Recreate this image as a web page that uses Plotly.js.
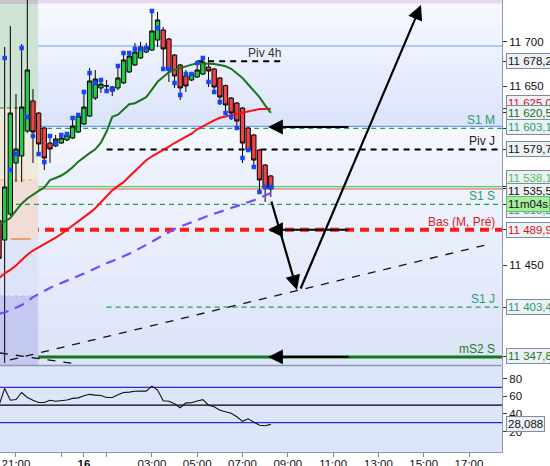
<!DOCTYPE html>
<html><head><meta charset="utf-8">
<script src="https://cdn.plot.ly/plotly-3.0.1.min.js"></script>
<style>html,body{margin:0;padding:0;background:#fff;}#chart{width:550px;height:466px;}</style>
</head><body><div id="chart"></div>
<script>
// ---------------- DATA ----------------
const times = [20.25,20.5,20.75,21,21.25,21.5,21.75,22,22.25,22.5,22.75,23,23.25,23.5,23.75,24,24.25,24.5,24.75,25,25.25,25.5,25.75,26,26.25,26.5,26.75,27,27.25,27.5,27.75,28,28.25,28.5,28.75,29,29.25,29.5,29.75,30,30.25,30.5,30.75,31,31.25,31.5,31.75,32,32.25];
const openP  = [11500,11478.4,11507.5,11564.5,11572.3,11600.2,11633.8,11620.3,11603.6,11586.8,11583.5,11586.8,11590.2,11592.4,11599.1,11608.0,11617.0,11637.1,11648.3,11650.5,11649.4,11648.3,11653.9,11666.2,11674.0,11681.8,11688.5,11690.7,11701.9,11713.1,11703.0,11685.1,11674.0,11661.7,11657.2,11660.6,11663.9,11671.7,11669.5,11659.5,11651.0,11637.1,11631.5,11625.9,11603.6,11595.8,11579.0,11562.2,11550.0];
const highP  = [11506,11694.1,11717.5,11641.6,11697.4,11760,11647.2,11621.5,11604.7,11595.8,11595.8,11598.0,11596.9,11614.8,11618.1,11643.8,11670.6,11668.4,11657.2,11657.2,11650.5,11674.0,11688.5,11687.4,11698.6,11699.7,11698.6,11734.3,11733.2,11716.4,11704.1,11686.3,11675.1,11668.4,11665.0,11676.2,11682.9,11682.9,11670.6,11660.6,11652.1,11638.2,11632.6,11627.0,11604.7,11596.9,11580.1,11563.3,11551.1];
const lowP   = [11452,11341.0,11505.3,11543.3,11543.3,11598.0,11564.5,11573.4,11556.7,11564.5,11582.4,11585.7,11589.1,11591.3,11598.0,11606.9,11615.9,11634.9,11642.7,11642.7,11639.3,11646.0,11652.7,11665.0,11672.9,11680.7,11687.4,11689.6,11694.1,11669.5,11655.0,11648.3,11634.9,11643.8,11656.1,11659.5,11662.8,11649.4,11642.7,11629.3,11621.5,11612.5,11603.6,11564.5,11577.5,11560.0,11532.1,11520.9,11526.5];
const closeP = [11458,11537.7,11620.3,11580.1,11627.0,11668.4,11599.1,11585.7,11570.1,11580.1,11591.3,11592.4,11595.8,11605.8,11617.0,11627.0,11656.1,11658.3,11652.7,11650.7,11644.9,11659.5,11679.6,11684.0,11688.5,11694.1,11694.1,11712.0,11724.3,11691.9,11668.4,11661.7,11648.3,11650.5,11663.9,11668.4,11677.3,11667.3,11649.4,11638.2,11629.3,11620.3,11611.4,11586.8,11579.0,11567.8,11545.5,11536.6,11535.5];
const markerP = [null,11681.8,11556.7,11574.5,11693.0,11615.9,11594.6,11574.5,11565.6,11594.6,11586.8,11595.8,11596.9,11614.8,11618.1,11643.8,11665.0,11653.9,11657.2,11644.9,11647.2,11672.9,11687.4,11687.4,11691.9,11691.9,11693.0,11734.3,11715.3,11669.5,11669.5,11653.9,11640.5,11663.9,11663.9,11676.2,11681.8,11655.0,11643.8,11632.6,11620.3,11615.9,11603.6,11570.1,11579.0,11560.0,11532.1,11537.7,11537.7];
const maGreen = [11495.2,11499.2,11503.0,11511.3,11519.0,11524.8,11529.5,11533.3,11537.0,11545.4,11547.7,11550.5,11554.6,11559.7,11566.0,11571.1,11575.5,11579.8,11587.3,11599.6,11616.1,11618.4,11623.9,11630.1,11631.3,11634.3,11638.1,11646.5,11655.2,11660.5,11665.9,11668.4,11670.6,11672.9,11674.4,11676.0,11676.0,11675.5,11675.2,11674.0,11672.6,11669.8,11664.9,11659.6,11652.2,11645.4,11638.0,11628.9,11620.5];
const maRed = [11436.0,11441.1,11445.1,11449.9,11456.1,11462.0,11466.7,11470.2,11473.6,11477.3,11481.1,11485.1,11489.7,11494.1,11498.7,11503.8,11508.8,11514.0,11520.3,11527.2,11533.9,11538.6,11543.1,11549.4,11555.5,11561.7,11567.5,11572.0,11575.4,11579.6,11582.9,11586.8,11590.4,11593.2,11597.2,11602.1,11605.7,11608.8,11612.1,11615.0,11616.4,11617.9,11619.2,11620.7,11621.9,11623.6,11624.8,11624.8,11625.0];
const maPurple = [11395.8,11397.4,11399.7,11402.9,11405.7,11409.7,11414.6,11418.1,11421.6,11425.2,11428.2,11430.5,11432.9,11435.3,11437.9,11440.9,11443.9,11446.9,11450.0,11452.4,11454.9,11457.4,11460.0,11463.1,11466.3,11469.5,11472.8,11476.5,11480.2,11483.9,11487.4,11490.7,11493.4,11495.9,11498.5,11501.2,11503.5,11505.6,11507.7,11510.0,11511.9,11514.1,11516.3,11518.4,11520.7,11522.9,11525.4,11528.5,11531.0];
const oscValues = [49.8,68.9,55.5,56.3,64.3,58.6,55.5,52.9,52.9,55.5,54.4,55.0,55.8,57.6,58.2,60.7,62.2,61.3,60.9,58.6,58.6,61.8,64.2,64.7,65.7,65.8,65.8,71.5,67.0,55.0,54.4,51.5,47.0,52.5,52.7,54.6,56.1,49.8,48.1,44.1,42.1,40.7,36.7,31.5,34.4,31.0,27.0,26.5,28.088];
const oscLevels = [70, 50, 30];
const oscTicks = [20, 40, 60, 80];

const tickHours = [21,23,24,25,27,29,31,33,35,37,39,41];
const tickLabels = ['21:00','','<b>16</b>','','03:00','05:00','07:00','09:00','11:00','13:00','15:00','17:00'];
const priceTicks = [11450, 11650, 11700];
const priceTickLabels = ['11 450','11 650','11 700'];

const levelNames  = ['Piv 4h','S1 M','Piv J','S1 S','Bas (M, Pré)','S1 J','mS2 S'];
const levelValues = [11678.2, 11603.1, 11579.7, 11518.2, 11489.9, 11403.4, 11347.8];
const blueLevels = [11695.2, 11605.3];
const greenLevel = 11538.1;
const lastPrice = 11535.5;
const maGreenLast = 11620.5;
const maRedLast = 11625.0;
const timerText = '11m04s';

const trend1T = [20.735, 41.927];
const trend1P = [11344.4, 11474.0];
const trend2T = [20.294, 23.693];
const trend2P = [11352.2, 11339.9];

const arrowTailT = [35.746, 35.746, 35.746, 32.258, 33.539];
const arrowTailP = [11604.7, 11489.9, 11347.8, 11523.1, 11422.6];
const arrowHeadT = [32.126, 32.126, 32.126, 33.406, 38.881];
const arrowHeadP = [11604.7, 11489.9, 11347.8, 11422.6, 11741.0];

// ---------------- HELPERS ----------------
function fmt(v, d) {
  const s = v.toFixed(d === undefined ? 1 : d).split('.');
  return s[0].replace(/\B(?=(\d{3})+(?!\d))/g, ' ') + ',' + s[1];
}
function mix(c0, c1, f) {
  const a = parseInt(c0.slice(1), 16), b = parseInt(c1.slice(1), 16);
  const ch = (x, sh) => (x >> sh) & 255;
  const r = Math.round(ch(a,16)*(1-f) + ch(b,16)*f);
  const g = Math.round(ch(a,8)*(1-f) + ch(b,8)*f);
  const bl = Math.round(ch(a,0)*(1-f) + ch(b,0)*f);
  return 'rgb(' + r + ',' + g + ',' + bl + ')';
}

const X0 = 20.294, X1 = 42.457;
const Y0 = 11338.8, Y1 = 11746.6;
const FONT = 'Liberation Sans, Arial, sans-serif';
const shapes = [];

function gradient(pTop, pBot, cTop, cBot, n) {
  for (let i = 0; i < n; i++) {
    const a = pTop + (pBot - pTop) * i / n;
    const b = pTop + (pBot - pTop) * (i + 1) / n;
    shapes.push({type:'rect', xref:'paper', yref:'y', x0:0, x1:1, y0:a, y1:b + (pBot < pTop ? -0.4 : 0.4),
      fillcolor: mix(cTop, cBot, (i + 0.5) / n), line:{width:0}, layer:'below'});
  }
}
gradient(Y1, blueLevels[0], '#f8f9ff', '#eef2fd', 5);
gradient(blueLevels[0], blueLevels[1], '#eef3fd', '#dae3f9', 10);
gradient(blueLevels[1], greenLevel, '#f7f9fe', '#e9eefc', 8);
gradient(greenLevel, Y0, '#eff3fd', '#dbe3f9', 14);

function zone(p0, p1, color, xa, xb) {
  shapes.push({type:'rect', xref:'x', yref:'y', x0:xa, x1:xb, y0:p0, y1:p1, fillcolor:color, line:{width:0}, layer:'below'});
}
const ZX = 21.98;
zone(11742.1, Y1, '#c6c6cc', X0, ZX);
zone(11625.9, 11742.1, '#cee3d4', X0, ZX);
zone(11545.5, 11625.9, '#efe9dc', X0, ZX);
zone(11479.6, 11545.5, '#f1ddd8', X0, ZX);
zone(11415.9, 11479.6, '#dde4f8', X0, ZX);
zone(Y0, 11415.9, '#c4c9f2', X0, ZX);
zone(11742.7, Y1, '#e7d8f0', ZX, X1);

function hline(p, xa, xb, color, width, dash, xref) {
  shapes.push({type:'line', xref: xref || 'x', yref:'y', x0:xa, x1:xb, y0:p, y1:p,
    line:{color:color, width:width, dash:dash || 'solid'}, layer:'below'});
}
// left-zone small lines
hline(11625.9, X0, 21.85, '#2a8a2a', 1, '4px,3px');
hline(11545.5, X0, 21.85, '#f5b030', 1.2, '4px,3px');
hline(11479.6, 20.77, 21.65, '#f08a40', 1.5);
hline(11415.9, X0, ZX, '#a8bdf2', 1, '4px,3px');
// level lines
hline(blueLevels[0], 0, 1, '#6f9ff5', 1.2, 'solid', 'paper');
hline(blueLevels[1], 0, 1, '#6f9ff5', 1.2, 'solid', 'paper');
hline(levelValues[0], 29.0, 32.75, '#000', 2, '6px,5px');
hline(levelValues[1], ZX, X1, '#22a050', 1.2, '5px,4px');
hline(levelValues[2], 25.0, X1, '#000', 2, '6px,5px');
hline(greenLevel, 0, 1, '#55cc55', 1.3, 'solid', 'paper');
hline(lastPrice, 0, 1, '#e05555', 1, 'solid', 'paper');
hline(levelValues[3], 21.0, X1, '#22a050', 1.2, '5px,4px');
hline(levelValues[4], 0, 1, '#ff1a1a', 4, '9px,6px', 'paper');
hline(levelValues[5], 25.0, X1, '#22a050', 1.2, '5px,4px');
hline(levelValues[6], 0, 1, '#137a13', 3, 'solid', 'paper');

// oscillator levels
oscLevels.forEach((v, i) => {
  shapes.push({type:'line', xref:'paper', yref:'y2', x0:0, x1:1, y0:v, y1:v,
    line:{color: i === 1 ? '#000' : '#2a2ad0', width:1.3}, layer:'below'});
});

const mainDomain = [0.1925, 1];
const oscDomain = [0, 0.1903];
// separator between panels
shapes.push({type:'line', xref:'paper', yref:'paper', x0:0, x1:1, y0:0.1914, y1:0.1914, line:{color:'#8a9aaa', width:1.5}, layer:'above'});

// ---------------- TRACES ----------------
const traces = [
  {type:'scatter', mode:'lines', x:trend1T, y:trend1P, xaxis:'x', yaxis:'y', line:{color:'#111', width:1.3, dash:'8px,8px'}, hoverinfo:'skip', showlegend:false},
  {type:'scatter', mode:'lines', x:trend2T, y:trend2P, xaxis:'x', yaxis:'y', line:{color:'#111', width:1.3, dash:'8px,8px'}, hoverinfo:'skip', showlegend:false},
  {type:'scatter', mode:'lines', x:times, y:maPurple, xaxis:'x', yaxis:'y', line:{color:'#7448ff', width:2.2, dash:'10px,7px'}, hoverinfo:'skip', showlegend:false},
  {type:'candlestick', x:times, open:openP, high:highP, low:lowP, close:closeP, xaxis:'x', yaxis:'y',
    increasing:{line:{color:'#000', width:1}, fillcolor:'#22cc44'},
    decreasing:{line:{color:'#000', width:1}, fillcolor:'#f04444'},
    whiskerwidth:0, hoverinfo:'skip', showlegend:false},
  {type:'scatter', mode:'lines', x:times, y:maRed, xaxis:'x', yaxis:'y', line:{color:'#ff1010', width:2}, hoverinfo:'skip', showlegend:false},
  {type:'scatter', mode:'lines', x:times, y:maGreen, xaxis:'x', yaxis:'y', line:{color:'#1a741a', width:2}, hoverinfo:'skip', showlegend:false},
  {type:'scatter', mode:'markers', x:times, y:markerP, xaxis:'x', yaxis:'y', marker:{symbol:'square', size:4.5, color:'#1445ff'}, hoverinfo:'skip', showlegend:false},
  {type:'scatter', mode:'lines', x:times, y:oscValues, xaxis:'x', yaxis:'y2', line:{color:'#111', width:1.1}, hoverinfo:'skip', showlegend:false}
];

// ---------------- ANNOTATIONS ----------------
const annotations = [];
for (let i = 0; i < arrowTailT.length; i++) {
  annotations.push({x:arrowHeadT[i], y:arrowHeadP[i], ax:arrowTailT[i], ay:arrowTailP[i],
    xref:'x', yref:'y', axref:'x', ayref:'y', text:'', showarrow:true,
    arrowhead:2, arrowsize:1.35, arrowwidth:2.2, arrowcolor:'#000', standoff:0, startstandoff:0});
}
const nameColors = ['#333','#2a9d6b','#222','#2a9d6b','#e02020','#2a9d6b','#1e7d1e'];
levelNames.forEach((n, i) => {
  const a = {text:n, yref:'y', y:levelValues[i], yanchor:'bottom', showarrow:false,
    font:{family:FONT, size:12, color:nameColors[i]}, borderpad:0};
  if (i === 0) { a.xref = 'x'; a.x = 32.75; a.xanchor = 'right'; }
  else { a.xref = 'paper'; a.x = 496/502; a.xanchor = 'right'; }
  annotations.push(a);
});
const boxValues = [11678.2, maRedLast, maGreenLast, levelValues[1], levelValues[2], greenLevel, lastPrice, levelValues[3], levelValues[4], levelValues[5], levelValues[6]];
const boxColors = ['#111', '#e01010', '#176e17', '#1f9f6f', '#111', '#4cc44c', '#111', '#1f9f6f', '#e01010', '#1f9f6f', '#1a7a1a'];
const boxShift  = [0, 6, 0, 1, 0, 9, -2, -6, 0, 0, 1];
function box(text, y, yref, color, shift, bg, border) {
  annotations.push({text:text, xref:'paper', x:1 + 4/502, xanchor:'left', yref:yref, y:y, yanchor:'middle', yshift:shift,
    showarrow:false, bgcolor:bg || '#eef2f7', bordercolor:border || '#7b8c9e', borderwidth:1, borderpad:1,
    font:{family:FONT, size:11.5, color:color}});
}
boxValues.forEach((v, i) => { if (i !== 7 && i !== 8) box(fmt(v), v, 'y', boxColors[i], boxShift[i]); });
box(fmt(boxValues[7]), boxValues[7], 'y', boxColors[7], boxShift[7]);
box(timerText, lastPrice, 'y', '#111', -15, '#a4ee9e', '#6cb868');
box(fmt(boxValues[8]), boxValues[8], 'y', boxColors[8], boxShift[8]);
box(fmt(oscValues[oscValues.length - 1], 3), oscValues[oscValues.length - 1], 'y2', '#111', 0);

// ---------------- LAYOUT ----------------
const layout = {
  width:550, height:466,
  margin:{l:0, r:48, t:0, b:14, pad:0},
  paper_bgcolor:'#ffffff', plot_bgcolor:'#dde5fb',
  font:{family:FONT, size:11.5, color:'#111'},
  showlegend:false,
  boxgap:0.15, boxgroupgap:0.1,
  xaxis:{range:[X0, X1], anchor:'y2', tickmode:'array', tickvals:tickHours, ticktext:tickLabels,
    ticks:'outside', ticklen:4, tickcolor:'#7a8898', showgrid:false, zeroline:false,
    showline:true, linecolor:'#8a9aaa', linewidth:1, rangeslider:{visible:false}, fixedrange:true,
    ticklabelstandoff:-3,
    tickfont:{family:FONT, size:11.5, color:'#111'}},
  yaxis:{domain:mainDomain, anchor:'x', side:'right', range:[Y0, Y1], tickmode:'array',
    tickvals:priceTicks.concat(boxValues), ticktext:priceTickLabels.concat(boxValues.map(() => '')),
    ticks:'outside', ticklen:4, tickcolor:'#333', showgrid:false, zeroline:false,
    showline:true, linecolor:'#8a9aaa', linewidth:1, fixedrange:true,
    tickfont:{family:FONT, size:11.5, color:'#111'}},
  yaxis2:{domain:oscDomain, anchor:'x', side:'right', range:[-3.3, 94.4], tickmode:'array', tickvals:oscTicks,
    ticks:'outside', ticklen:4, tickcolor:'#333', showgrid:false, zeroline:false,
    showline:true, linecolor:'#8a9aaa', linewidth:1, fixedrange:true,
    tickfont:{family:FONT, size:11.5, color:'#111'}},
  shapes:shapes,
  annotations:annotations
};

Plotly.newPlot('chart', traces, layout, {displayModeBar:false, staticPlot:true});
</script>
</body></html>
